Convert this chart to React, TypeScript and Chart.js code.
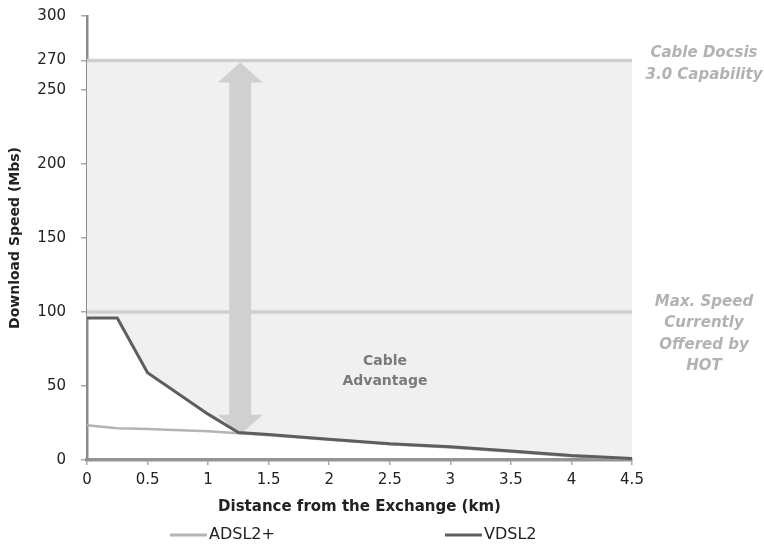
import React, { useEffect, useRef } from "react";
import { Chart, registerables } from "chart.js";

Chart.register(...registerables);

// ---- data ----
const DISTANCE_KM = [0, 0.25, 0.5, 1, 1.25, 1.5, 2, 2.5, 3, 3.5, 4, 4.5];
const ADSL2_MBS = [23.5, 21.5, 21, 19.5, 18, 16.8, 13.6, 10.6, 8.5, 5.5, 2.6, 0.6];
const VDSL2_MBS = [96, 96, 59, 31, 18.5, 17.2, 14, 11, 9, 6, 3, 1];
const Y_TICKS = [0, 50, 100, 150, 200, 250, 270, 300];
const X_MIN = 0;
const X_MAX = 4.5;
const X_STEP = 0.5;
const Y_MIN = 0;
const Y_MAX = 300;
const DOCSIS_CAPABILITY = 270;
const HOT_MAX_SPEED = 100;
const ADVANTAGE_ARROW = { x: 1.265, from: 17, to: 270 };
const ADVANTAGE_LABEL = { x: 2.46, y: 60, lines: ["Cable", "Advantage"] };
const DOCSIS_LABEL = ["Cable Docsis", "3.0 Capability"];
const HOT_LABEL = ["Max. Speed", "Currently", "Offered by", "HOT"];
const SERIES_LABELS = ["ADSL2+", "VDSL2"];

const FONT = "'DejaVu Sans', 'Liberation Sans', Arial, sans-serif";
const REF_LINE_COLOR = "#cfcfd1";
const ANNOT_COLOR = "#b2b2b6";

const overlayPlugin = {
  id: "overlay",
  beforeDatasetsDraw(chart: any) {
    const { ctx, scales } = chart;
    const x = scales.x;
    const y = scales.y;
    ctx.save();
    ctx.strokeStyle = REF_LINE_COLOR;
    ctx.lineWidth = 3.5;
    for (const v of [DOCSIS_CAPABILITY, HOT_MAX_SPEED]) {
      const py = y.getPixelForValue(v);
      ctx.beginPath();
      ctx.moveTo(x.getPixelForValue(X_MIN), py);
      ctx.lineTo(x.getPixelForValue(X_MAX), py);
      ctx.stroke();
    }
    const ax = x.getPixelForValue(ADVANTAGE_ARROW.x);
    const top = y.getPixelForValue(ADVANTAGE_ARROW.to) + 2;
    const bot = y.getPixelForValue(ADVANTAGE_ARROW.from);
    const sw = 11;
    const hw = 22.5;
    const hl = 20;
    ctx.fillStyle = "#d0d0d2";
    ctx.beginPath();
    ctx.moveTo(ax, top);
    ctx.lineTo(ax + hw, top + hl);
    ctx.lineTo(ax + sw, top + hl);
    ctx.lineTo(ax + sw, bot - hl);
    ctx.lineTo(ax + hw, bot - hl);
    ctx.lineTo(ax, bot);
    ctx.lineTo(ax - hw, bot - hl);
    ctx.lineTo(ax - sw, bot - hl);
    ctx.lineTo(ax - sw, top + hl);
    ctx.lineTo(ax - hw, top + hl);
    ctx.closePath();
    ctx.fill();
    ctx.restore();
  },
  afterDatasetsDraw(chart: any) {
    const { ctx, scales } = chart;
    const x = scales.x;
    const y = scales.y;
    ctx.save();
    ctx.font = `bold 14px ${FONT}`;
    ctx.fillStyle = "#7a7a7c";
    ctx.textAlign = "center";
    ctx.textBaseline = "middle";
    const cx = x.getPixelForValue(ADVANTAGE_LABEL.x);
    const cy = y.getPixelForValue(ADVANTAGE_LABEL.y);
    const lh = 20;
    ADVANTAGE_LABEL.lines.forEach((t, i) => {
      ctx.fillText(t, cx, cy + (i - (ADVANTAGE_LABEL.lines.length - 1) / 2) * lh);
    });
    ctx.restore();
  },
  afterDraw(chart: any) {
    const { ctx, scales, data } = chart;
    const y = scales.y;
    const rightX = chart.chartArea.right;
    ctx.save();
    ctx.font = `italic bold 15px ${FONT}`;
    ctx.fillStyle = ANNOT_COLOR;
    ctx.textAlign = "center";
    ctx.textBaseline = "middle";
    const cx = rightX + 72;
    const dY = y.getPixelForValue(DOCSIS_CAPABILITY);
    DOCSIS_LABEL.forEach((t, i) => ctx.fillText(t, cx, dY - 7 + i * 22));
    const hY = y.getPixelForValue(HOT_MAX_SPEED);
    HOT_LABEL.forEach((t, i) => ctx.fillText(t, cx, hY - 10 + i * 21.5));

    const legendY = 535;
    const starts = [170, 445];
    ctx.font = `16px ${FONT}`;
    ctx.textAlign = "left";
    ctx.fillStyle = "#222";
    data.datasets.forEach((ds: any, i: number) => {
      const sx = starts[i];
      ctx.strokeStyle = ds.borderColor;
      ctx.lineWidth = 3;
      ctx.beginPath();
      ctx.moveTo(sx, legendY);
      ctx.lineTo(sx + 37, legendY);
      ctx.stroke();
      ctx.fillText(ds.label, sx + 39, legendY);
    });
    ctx.restore();
  },
};

export default function App() {
  const ref = useRef<HTMLCanvasElement | null>(null);

  useEffect(() => {
    document.body.style.margin = "0";
    const canvas = ref.current;
    if (!canvas) return;
    const chart = new Chart(canvas, {
      type: "line",
      data: {
        datasets: [
          {
            label: SERIES_LABELS[0],
            data: DISTANCE_KM.map((d, i) => ({ x: d, y: ADSL2_MBS[i] })),
            borderColor: "#b4b4b6",
            borderWidth: 2.5,
            pointRadius: 0,
            tension: 0,
            fill: false,
            order: 2,
          },
          {
            label: SERIES_LABELS[1],
            data: DISTANCE_KM.map((d, i) => ({ x: d, y: VDSL2_MBS[i] })),
            borderColor: "#5e5e60",
            backgroundColor: "#f0f0f0",
            borderWidth: 3,
            pointRadius: 0,
            tension: 0,
            fill: { value: DOCSIS_CAPABILITY },
            order: 1,
          },
        ],
      },
      options: {
        animation: false,
        responsive: false,
        devicePixelRatio: 1,
        layout: { padding: { left: 0, right: 132, top: 16, bottom: 25 } },
        plugins: {
          legend: { display: false },
          tooltip: { enabled: false },
          filler: { drawTime: "beforeDatasetsDraw" },
        },
        scales: {
          x: {
            type: "linear",
            min: X_MIN,
            max: X_MAX,
            z: 1,
            ticks: {
              stepSize: X_STEP,
              color: "#222",
              font: { family: FONT, size: 15 },
              padding: 6,
              maxRotation: 0,
              callback: (v: any) => String(Number(v)),
            },
            grid: {
              drawOnChartArea: false,
              drawTicks: true,
              tickLength: 5,
              tickColor: "#a8a8a8",
              lineWidth: 1.5,
            },
            border: { display: true, color: "#939395", width: 3.5 },
            title: {
              display: true,
              text: "Distance from the Exchange (km)",
              color: "#222",
              font: { family: FONT, size: 15, weight: "bold" },
              padding: { top: 4, bottom: 4 },
            },
            afterFit: (s: any) => {
              s.height = 60;
            },
          },
          y: {
            type: "linear",
            min: Y_MIN,
            max: Y_MAX,
            z: 1,
            afterBuildTicks: (s: any) => {
              s.ticks = Y_TICKS.map((v) => ({ value: v }));
            },
            ticks: {
              color: "#222",
              font: { family: FONT, size: 15 },
              padding: 15,
              autoSkip: false,
            },
            grid: {
              drawOnChartArea: false,
              drawTicks: true,
              tickLength: 6,
              tickColor: "#a8a8a8",
              lineWidth: 1.5,
            },
            border: { display: true, color: "#8c8c8e", width: 2.5 },
            title: {
              display: true,
              text: "Download Speed (Mbs)",
              color: "#222",
              font: { family: FONT, size: 14, weight: "bold" },
              padding: { top: 7, bottom: 4 },
            },
            afterFit: (s: any) => {
              s.width = 87;
              s.paddingTop = 0;
              s.paddingBottom = 0;
            },
          },
        },
      },
      plugins: [overlayPlugin],
    });
    return () => chart.destroy();
  }, []);

  return (
    <div style={{ width: 764, height: 545 }}>
      <canvas ref={ref} width={764} height={545} style={{ display: "block" }} />
    </div>
  );
}
